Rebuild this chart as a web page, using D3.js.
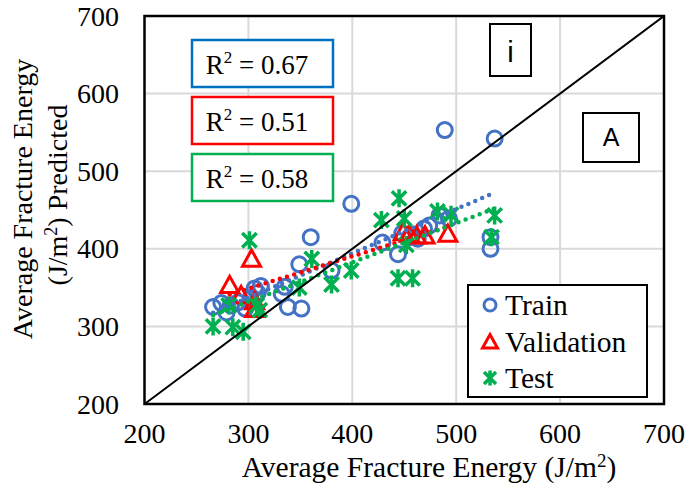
<!DOCTYPE html>
<html>
<head>
<meta charset="utf-8">
<script src="https://cdn.jsdelivr.net/npm/d3@7"></script>
<style>
  html, body { margin: 0; padding: 0; background: #fff; }
  svg { display: block; }
</style>
</head>
<body>
<svg id="chart" width="690" height="484"></svg>
<script>
// ---------- DATA ----------
const xTicks = [200, 300, 400, 500, 600, 700];
const yTicks = [200, 300, 400, 500, 600, 700];
const seriesNames = ["Train", "Validation", "Test"];
const r2Labels = ["0.67", "0.51", "0.58"];

const trainX = [266,274,279,283,290,297,302,306,309,312,332,335,338,351,349,360,380,399,429,444,448,455,463,469,474,484,493,489,537,533,533];
const trainY = [325,330,318,327,331,323,336,349,343,352,342,351,325,323,380,415,372,458,408,393,420,415,413,426,430,443,439,553,542,415,400];

const validX = [282,293,303,306,306,449,455,462,470,492];
const validY = [353,340,387,332,322,421,419,417,417,419];

const testX = [266,285,295,281,301,308,311,349,361,380,399,428,445,450,452,482,495,537,534,444,458];
const testY = [300,299,293,327,411,327,321,350,387,354,372,437,465,439,405,448,444,443,415,362,362];

// ---------- LAYOUT ----------
(function () {
const svg = d3.select("#chart");
const pL = 144.5, pR = 664, pT = 16, pB = 404;
const x = d3.scaleLinear().domain([200, 700]).range([pL, pR]);
const y = d3.scaleLinear().domain([200, 700]).range([pB, pT]);

const BLUE = "#4472C4", RED = "#FF0000", GREEN = "#00B050";
const SERIF = "'Liberation Serif','Times New Roman',serif";
const SANS = "'Liberation Sans',Arial,sans-serif";

// gridlines
const grid = svg.append("g");
grid.selectAll("line.vx").data(xTicks.slice(1, -1)).enter().append("line")
  .attr("x1", d => x(d)).attr("x2", d => x(d)).attr("y1", pT).attr("y2", pB)
  .attr("stroke", "#d9d9d9").attr("stroke-width", 2);
grid.selectAll("line.hy").data(yTicks.slice(1, -1)).enter().append("line")
  .attr("y1", d => y(d)).attr("y2", d => y(d)).attr("x1", pL).attr("x2", pR)
  .attr("stroke", "#d9d9d9").attr("stroke-width", 2);

// clip
svg.append("clipPath").attr("id", "clip").append("rect")
  .attr("x", pL).attr("y", pT).attr("width", pR - pL).attr("height", pB - pT);

// tick labels
svg.append("g").selectAll("text").data(xTicks).enter().append("text")
  .attr("x", d => x(d)).attr("y", 443).attr("text-anchor", "middle")
  .attr("font-family", SERIF).attr("font-size", 28).text(d => d);
svg.append("g").selectAll("text").data(yTicks).enter().append("text")
  .attr("x", 119).attr("y", d => y(d) + 9.5).attr("text-anchor", "end")
  .attr("font-family", SERIF).attr("font-size", 28).text(d => d);

// axis titles
const xt = svg.append("text").attr("x", 429).attr("y", 477).attr("text-anchor", "middle")
  .attr("font-family", SERIF).attr("font-size", 29.5);
xt.append("tspan").text("Average Fracture Energy (J/m");
xt.append("tspan").attr("font-size", 19).attr("dy", -10).text("2");
xt.append("tspan").attr("dy", 10).text(")");

svg.append("text").attr("transform", "translate(32,199) rotate(-90)")
  .attr("text-anchor", "middle").attr("font-family", SERIF).attr("font-size", 28)
  .text("Average Fracture Energy");
const yt2 = svg.append("text").attr("transform", "translate(67,195) rotate(-90)")
  .attr("text-anchor", "middle").attr("font-family", SERIF).attr("font-size", 28);
yt2.append("tspan").text("(J/m");
yt2.append("tspan").attr("font-size", 18).attr("dy", -10).text("2");
yt2.append("tspan").attr("dy", 10).text(") Predicted");

// R² boxes
const boxColors = ["#0070C0", RED, GREEN];
const boxTops = [40, 97, 154];
r2Labels.forEach((lab, i) => {
  svg.append("rect").attr("x", 192).attr("y", boxTops[i]).attr("width", 141).attr("height", 47)
    .attr("fill", "#fff").attr("stroke", boxColors[i]).attr("stroke-width", 2.5);
  const t = svg.append("text").attr("x", 257).attr("y", boxTops[i] + 34).attr("text-anchor", "middle")
    .attr("font-family", SERIF).attr("font-size", 27);
  t.append("tspan").text("R");
  t.append("tspan").attr("font-size", 17).attr("dy", -11).text("2");
  t.append("tspan").attr("dy", 11).text(" = " + lab);
});

// i and A boxes
svg.append("rect").attr("x", 490).attr("y", 24).attr("width", 41).attr("height", 52)
  .attr("fill", "#fff").attr("stroke", "#000").attr("stroke-width", 2);
svg.append("text").attr("x", 510.5).attr("y", 62).attr("text-anchor", "middle")
  .attr("font-family", SANS).attr("font-size", 29).text("i");
svg.append("rect").attr("x", 583).attr("y", 113).attr("width", 56).attr("height", 49)
  .attr("fill", "#fff").attr("stroke", "#000").attr("stroke-width", 2);
svg.append("text").attr("x", 611).attr("y", 146).attr("text-anchor", "middle")
  .attr("font-family", SANS).attr("font-size", 25).text("A");

// marker shapes
function triPath(s) { const h = s * 0.9; return `M0,${-h*0.55}L${s/2},${h*0.45}L${-s/2},${h*0.45}Z`; }
function starPath(s) { const h = s / 2, a = s * 0.4; return `M0,${-h}L0,${h}M${-a},${-a}L${a},${a}M${-a},${a}L${a},${-a}`; }

const plot = svg.append("g").attr("clip-path", "url(#clip)");

const train = trainX.map((v, i) => [v, trainY[i]]);
const valid = validX.map((v, i) => [v, validY[i]]);
const test = testX.map((v, i) => [v, testY[i]]);

plot.selectAll("circle.tr").data(train).enter().append("circle")
  .attr("cx", d => x(d[0])).attr("cy", d => y(d[1])).attr("r", 7.5)
  .attr("fill", "none").attr("stroke", BLUE).attr("stroke-width", 3);
plot.selectAll("path.va").data(valid).enter().append("path")
  .attr("transform", d => `translate(${x(d[0])},${y(d[1])})`).attr("d", triPath(18))
  .attr("fill", "none").attr("stroke", RED).attr("stroke-width", 3).attr("stroke-linejoin", "miter");
plot.selectAll("path.te").data(test).enter().append("path")
  .attr("transform", d => `translate(${x(d[0])},${y(d[1])})`).attr("d", starPath(18))
  .attr("fill", "none").attr("stroke", GREEN).attr("stroke-width", 3.5);

// linear trendlines (least squares)
function fit(pts) {
  const mx = d3.mean(pts, p => p[0]), my = d3.mean(pts, p => p[1]);
  const sxy = d3.sum(pts, p => (p[0] - mx) * (p[1] - my));
  const sxx = d3.sum(pts, p => (p[0] - mx) ** 2);
  const b = sxy / sxx, a = my - b * mx;
  const [x0, x1] = d3.extent(pts, p => p[0]);
  return [[x0, a + b * x0], [x1, a + b * x1]];
}
const line = d3.line().x(d => x(d[0])).y(d => y(d[1]));
[[train, BLUE], [valid, RED], [test, GREEN]].forEach(([pts, c]) => {
  plot.append("path").attr("d", line(fit(pts))).attr("fill", "none").attr("stroke", c)
    .attr("stroke-width", 4.5).attr("stroke-linecap", "round").attr("stroke-dasharray", "0 7.5");
});

// 1:1 line
plot.append("path").attr("d", line([[200, 200], [700, 700]]))
  .attr("stroke", "#000").attr("stroke-width", 2).attr("fill", "none");

// plot border
svg.append("rect").attr("x", pL).attr("y", pT).attr("width", pR - pL).attr("height", pB - pT)
  .attr("fill", "none").attr("stroke", "#000").attr("stroke-width", 2.5);

// legend
svg.append("rect").attr("x", 468).attr("y", 285).attr("width", 179).attr("height", 112)
  .attr("fill", "#fff").attr("stroke", "#000").attr("stroke-width", 2);
const legRows = [305, 342, 378];
seriesNames.forEach((name, i) => {
  const cy = legRows[i], cx = 490;
  if (i === 0) svg.append("circle").attr("cx", cx).attr("cy", cy).attr("r", 6)
    .attr("fill", "none").attr("stroke", BLUE).attr("stroke-width", 3);
  if (i === 1) svg.append("path").attr("transform", `translate(${cx},${cy})`).attr("d", triPath(15))
    .attr("fill", "none").attr("stroke", RED).attr("stroke-width", 3);
  if (i === 2) svg.append("path").attr("transform", `translate(${cx},${cy})`).attr("d", starPath(15))
    .attr("fill", "none").attr("stroke", GREEN).attr("stroke-width", 3.5);
  svg.append("text").attr("x", 505).attr("y", cy + 10).attr("font-family", SERIF)
    .attr("font-size", 29.5).text(name);
});
})();
</script>
</body>
</html>
